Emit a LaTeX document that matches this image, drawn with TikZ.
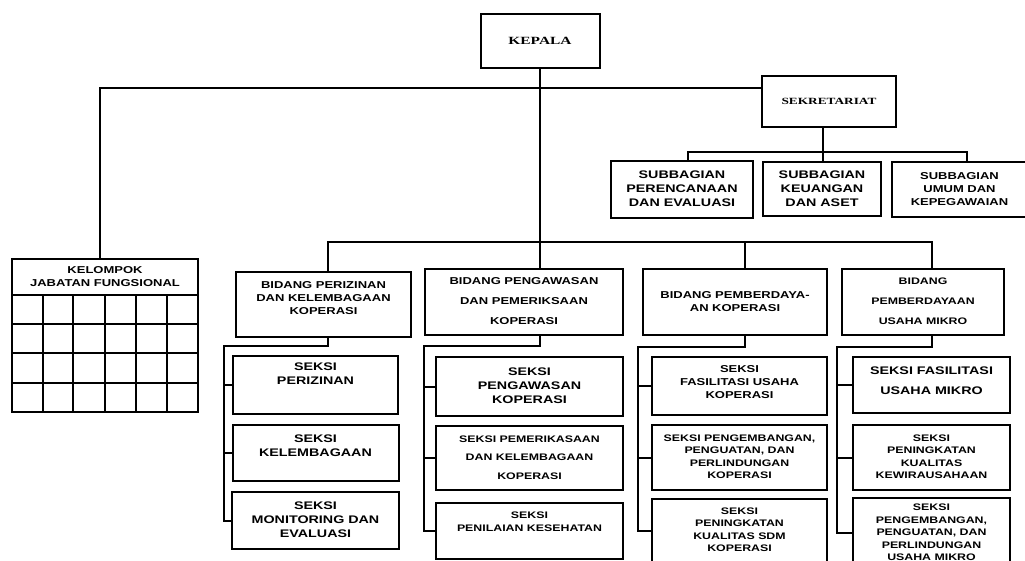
\documentclass[tikz,border=0pt]{standalone}
\usepackage{fontspec}
\usepackage{tikz}
\usetikzlibrary{positioning}
\newfontfamily\orgsans{Liberation Sans}[FakeStretch=1.3]
\newfontfamily\orgserif{Liberation Serif}[FakeStretch=1.4]
\newcommand{\fontA}{\fontsize{11}{14}\selectfont}
\newcommand{\fontB}{\fontsize{10}{13}\selectfont}
\newcommand{\fontC}{\fontsize{9.5}{12.5}\selectfont}

\tikzset{
  orgbox/.style={draw, rectangle, line width=2pt, inner sep=0pt},
  txtA/.style={font=\orgsans\bfseries\fontA},
  txtB/.style={font=\orgsans\bfseries\fontB},
  txtC/.style={font=\orgsans\bfseries\fontC},
  link/.style={line width=2pt},
}

\begin{document}
\begin{tikzpicture}[x=1pt, y=-1pt]
  \useasboundingbox (0,0) rectangle (1025,561);

  \node[orgbox, font=\orgserif\bfseries\fontsize{11}{13}\selectfont, minimum width=119pt, minimum height=54pt] (kepala) at (540,41) {KEPALA};

  \node[orgbox, font=\orgserif\bfseries\fontsize{9.5}{12}\selectfont, minimum width=134pt, minimum height=51pt] (sek) at (829,101.5) {SEKRETARIAT};

  \node[orgbox, txtA, minimum width=142pt, minimum height=57pt] (sb1) at (682,189.5) {
  \begin{tabular}{c}
    SUBBAGIAN \\
    PERENCANAAN \\
    DAN EVALUASI
  \end{tabular}
  };
  \node[orgbox, txtA, minimum width=118pt, minimum height=54pt, right=8pt of sb1] (sb2) {
  \begin{tabular}{c}
    SUBBAGIAN \\
    KEUANGAN \\
    DAN ASET
  \end{tabular}
  };
  \node[orgbox, txtB, minimum width=135pt, minimum height=55pt, right=9pt of sb2] (sb3) {
  \begin{tabular}{c}
    SUBBAGIAN \\
    UMUM DAN \\
    KEPEGAWAIAN
  \end{tabular}
  };

  % kelompok jabatan fungsional
  \node[orgbox, txtB, minimum width=186pt, minimum height=36pt] (kjf) at (105,277) {
  \begin{tabular}{c}
    KELOMPOK \\
    JABATAN FUNGSIONAL
  \end{tabular}
  };
  \draw[link] (12,295) rectangle (198,412);
  \foreach \x in {43,73,105,136,167}
    \draw[link] (\x,295) -- (\x,412);
  \foreach \y in {324,353,383}
    \draw[link] (12,\y) -- (198,\y);

  % bidang
  \node[orgbox, txtB, minimum width=175pt, minimum height=65pt] (b1) at (323.5,304.5) {
  \begin{tabular}{c}
    BIDANG PERIZINAN \\
    DAN KELEMBAGAAN \\
    KOPERASI \\[11pt]
  \end{tabular}
  };
  \node[orgbox, txtB, minimum width=198pt, minimum height=66pt] (b2) at (524,302) {
  \begin{tabular}{c}
    BIDANG PENGAWASAN \\[7pt]
    DAN PEMERIKSAAN \\[7pt]
    KOPERASI
  \end{tabular}
  };
  \node[orgbox, txtB, minimum width=184pt, minimum height=66pt, right=18pt of b2] (b3) {
  \begin{tabular}{c}
    BIDANG PEMBERDAYA- \\
    AN KOPERASI
  \end{tabular}
  };
  \node[orgbox, txtC, minimum width=162pt, minimum height=66pt, right=13pt of b3] (b4) {
  \begin{tabular}{c}
    BIDANG \\[7.5pt]
    PEMBERDAYAAN \\[7.5pt]
    USAHA MIKRO
  \end{tabular}
  };

  % seksi bidang perizinan
  \node[orgbox, txtA, minimum width=165pt, minimum height=58pt] (s11) at (315.5,385) {
  \begin{tabular}{c}
    SEKSI \\
    PERIZINAN \\[20pt]
  \end{tabular}
  };
  \node[orgbox, txtA, minimum width=166pt, minimum height=56pt, below=9pt of s11] (s12) {
  \begin{tabular}{c}
    SEKSI \\
    KELEMBAGAAN \\[13pt]
  \end{tabular}
  };
  \node[orgbox, txtA, minimum width=167pt, minimum height=57pt, below=9pt of s12] (s13) {
  \begin{tabular}{c}
    SEKSI \\
    MONITORING DAN \\
    EVALUASI
  \end{tabular}
  };

  % seksi bidang pengawasan
  \node[orgbox, txtA, minimum width=187pt, minimum height=59pt] (s21) at (529.5,386.5) {
  \begin{tabular}{c}
    SEKSI \\
    PENGAWASAN \\
    KOPERASI
  \end{tabular}
  };
  \node[orgbox, txtC, minimum width=187pt, minimum height=64pt, below=8pt of s21] (s22) {
  \begin{tabular}{c}
    SEKSI PEMERIKASAAN \\[6pt]
    DAN KELEMBAGAAN \\[6pt]
    KOPERASI
  \end{tabular}
  };
  \node[orgbox, txtC, minimum width=187pt, minimum height=56pt, below=11pt of s22] (s23) {
  \begin{tabular}{c}
    SEKSI \\
    PENILAIAN KESEHATAN \\[17pt]
  \end{tabular}
  };

  % seksi bidang pemberdayaan koperasi
  \node[orgbox, txtB, minimum width=175pt, minimum height=58pt] (s31) at (739.5,386) {
  \begin{tabular}{c}
    SEKSI \\
    FASILITASI USAHA \\
    KOPERASI \\[6pt]
  \end{tabular}
  };
  \node[orgbox, txtC, minimum width=175pt, minimum height=65pt, below=8pt of s31] (s32) {
  \begin{tabular}{c}
    SEKSI PENGEMBANGAN, \\
    PENGUATAN, DAN \\
    PERLINDUNGAN \\
    KOPERASI
  \end{tabular}
  };
  \node[orgbox, txtC, minimum width=175pt, minimum height=63pt, below=7pt of s32] (s33) {
  \begin{tabular}{c}
    SEKSI \\
    PENINGKATAN \\
    KUALITAS SDM \\
    KOPERASI
  \end{tabular}
  };

  % seksi bidang usaha mikro
  \node[orgbox, txtA, minimum width=157pt, minimum height=56pt] (s41) at (931.5,385) {
  \begin{tabular}{c}
    SEKSI FASILITASI \\[6pt]
    USAHA MIKRO \\[6pt]
  \end{tabular}
  };
  \node[orgbox, txtC, minimum width=157pt, minimum height=65pt, below=10pt of s41] (s42) {
  \begin{tabular}{c}
    SEKSI \\
    PENINGKATAN \\
    KUALITAS \\
    KEWIRAUSAHAAN
  \end{tabular}
  };
  \node[orgbox, txtC, minimum width=157pt, minimum height=70pt, below=6pt of s42] (s43) {
  \begin{tabular}{c}
    SEKSI \\
    PENGEMBANGAN, \\
    PENGUATAN, DAN \\
    PERLINDUNGAN \\
    USAHA MIKRO
  \end{tabular}
  };

  % garis komando
  \draw[link] (kepala.south) -- (kepala.south |- b2.north);
  \draw[link] ([xshift=-5pt]kjf.north) |- ([yshift=13.5pt]sek.west);
  \draw[link] ([xshift=-6pt]sek.south) -- ([xshift=-6pt]sek.south |- sb2.north);
  \draw[link] ([xshift=6pt]sb1.north) -- ++(0,-8) -| ([xshift=7.5pt]sb3.north);
  \draw[link] ([xshift=4.5pt]b1.north) -- ++(0,-29) -| ([xshift=9pt]b4.north);
  \draw[link] ([xshift=10pt]b3.north) -- ++(0,-26);

  \coordinate (k1) at (224,346);
  \coordinate (k2) at (424,346);
  \coordinate (k3) at (638,347);
  \coordinate (k4) at (837,347);
  \draw[link] ([xshift=4.5pt]b1.south) |- (k1) |- (s13.west);
  \draw[link] ([xshift=16pt]b2.south) |- (k2) |- (s23.west);
  \draw[link] ([xshift=10pt]b3.south) |- (k3) |- (s33.west);
  \draw[link] ([xshift=9pt]b4.south) |- (k4) |- (s43.west);
  \foreach \s in {s11,s12}
    \draw[link] (k1 |- \s.west) -- (\s.west);
  \foreach \s in {s21,s22}
    \draw[link] (k2 |- \s.west) -- (\s.west);
  \foreach \s in {s31,s32}
    \draw[link] (k3 |- \s.west) -- (\s.west);
  \foreach \s in {s41,s42}
    \draw[link] (k4 |- \s.west) -- (\s.west);

\end{tikzpicture}
\end{document}
